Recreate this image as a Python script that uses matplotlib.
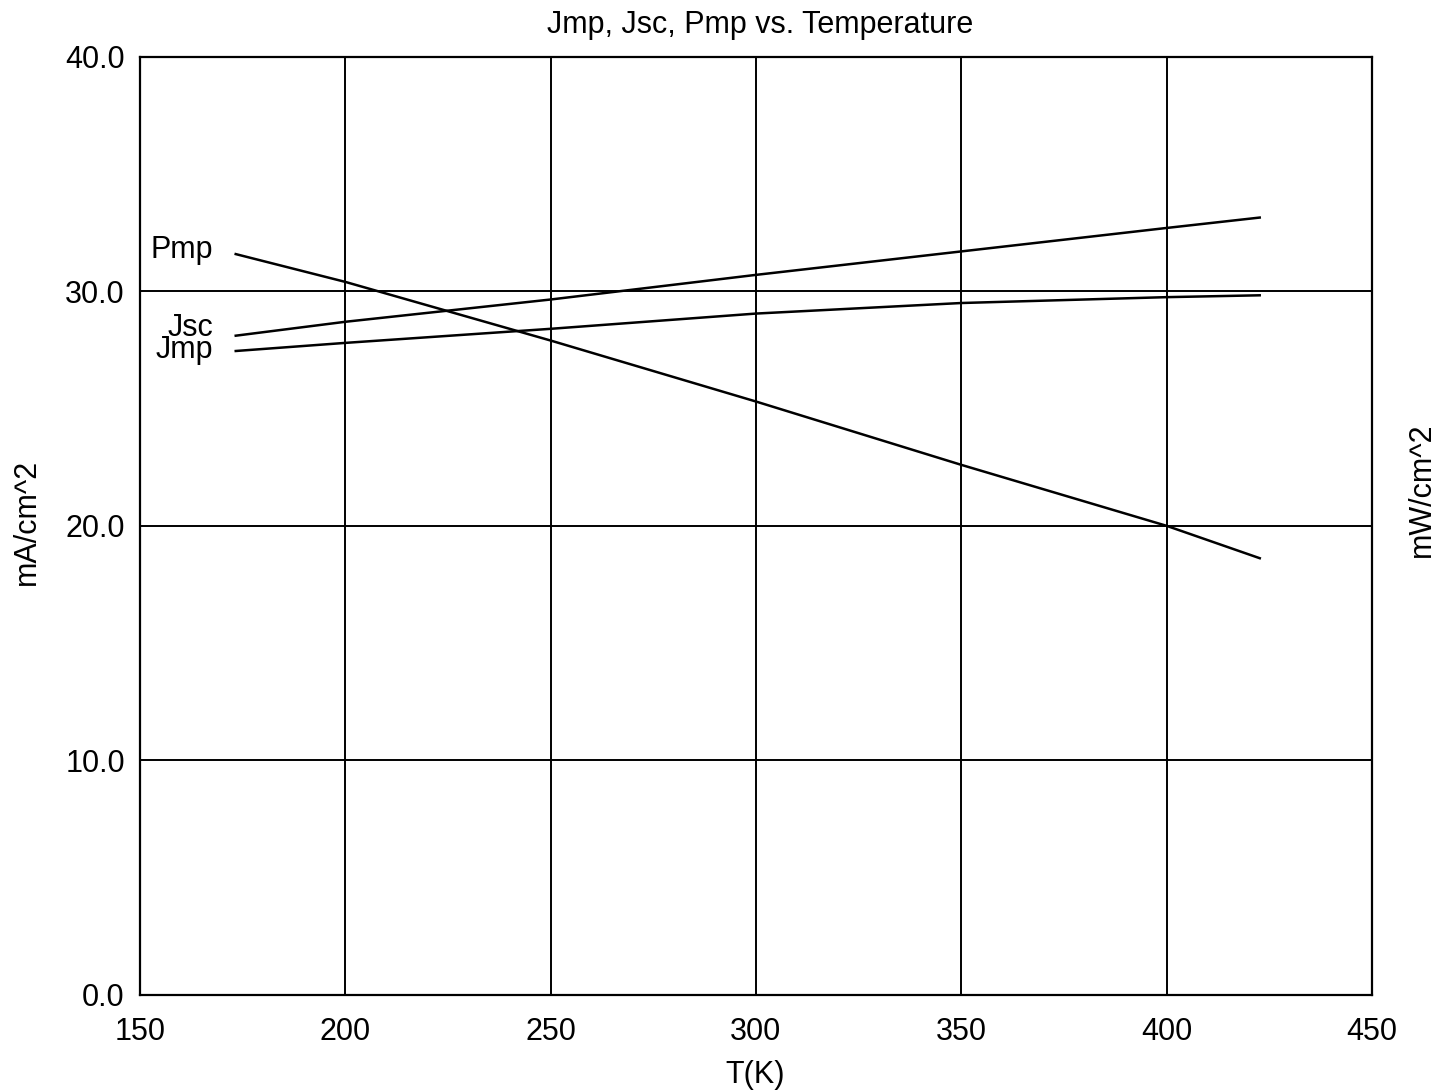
import matplotlib
matplotlib.use("Agg")
import matplotlib.pyplot as plt

plt.rcParams['font.family'] = ['Liberation Sans', 'DejaVu Sans']

# Data
T = [173, 200, 250, 300, 350, 400, 423]
Pmp = [31.6, 30.4, 27.9, 25.3, 22.6, 20.0, 18.6]
Jsc = [28.1, 28.7, 29.65, 30.7, 31.7, 32.7, 33.15]
Jmp = [27.45, 27.8, 28.4, 29.05, 29.5, 29.75, 29.83]

x_ticks = [150, 200, 250, 300, 350, 400, 450]
y_ticks = [0, 10, 20, 30, 40]
y_tick_labels = ["0.0", "10.0", "20.0", "30.0", "40.0"]

W, H = 1444, 1092
fig = plt.figure(figsize=(W / 100, H / 100), dpi=100)
ax = fig.add_axes([0.097, 0.089, 0.853, 0.859])

for s in (Pmp, Jsc, Jmp):
    ax.plot(T, s, color='black', lw=1.8, solid_capstyle='butt')

fs = 22
ax.set_xlim(150, 450)
ax.set_ylim(0, 40)
ax.set_xticks(x_ticks)
ax.set_yticks(y_ticks)
ax.set_yticklabels(y_tick_labels)
ax.grid(True, color='black', lw=1.4)
ax.set_axisbelow(True)
for sp in ax.spines.values():
    sp.set_linewidth(1.6)
    sp.set_color('black')
ax.tick_params(length=0, labelsize=fs, colors='black')
ax.tick_params(axis='x', pad=16)
ax.tick_params(axis='y', pad=11)

fig.text(760 / W, 1 - 25 / H, "Jmp, Jsc, Pmp vs. Temperature", fontsize=fs,
         ha='center', va='center')
fig.text(755 / W, 1 - 1075 / H, "T(K)", fontsize=fs, ha='center', va='center')
fig.text(27 / W, 1 - 522 / H, "mA/cm^2", rotation=90, fontsize=fs,
         ha='center', va='center')
fig.text(1422 / W, 1 - 490 / H, "mW/cm^2", rotation=90, fontsize=fs,
         ha='center', va='center')

ax.text(167.8, 31.75, "Pmp", fontsize=fs, ha='right', va='center')
ax.text(167.8, 28.45, "Jsc", fontsize=fs, ha='right', va='center')
ax.text(167.8, 27.5, "Jmp", fontsize=fs, ha='right', va='center')

fig.savefig("out.png", dpi=100, facecolor='white')
